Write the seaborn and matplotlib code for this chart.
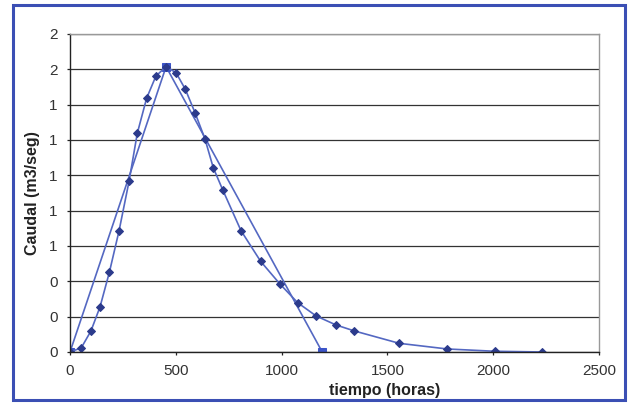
import matplotlib
matplotlib.use("Agg")
import matplotlib.pyplot as plt
from matplotlib.patches import Rectangle
from matplotlib.ticker import MultipleLocator, FormatStrFormatter
import seaborn as sns
import pandas as pd

# Hidrograma unitario (curva observada)
tiempo_curva = [0, 53, 99, 142, 186, 232, 279, 318, 362, 406, 454, 501, 545,
                591, 638, 677, 722, 808, 901, 992, 1076, 1163, 1257, 1344,
                1556, 1783, 2008, 2229]
caudal_curva = [0.0, 0.023, 0.119, 0.256, 0.451, 0.687, 0.966, 1.238, 1.436,
                1.562, 1.615, 1.581, 1.487, 1.354, 1.205, 1.043, 0.917, 0.687,
                0.513, 0.385, 0.279, 0.204, 0.153, 0.119, 0.049, 0.017,
                0.004, 0.0]

# Hidrograma triangular
tiempo_tri = [0, 454, 1192]
caudal_tri = [0.0, 1.615, 0.0]

sns.set_theme(style="white")
plt.rcParams["font.family"] = ["Liberation Sans", "DejaVu Sans"]

fig = plt.figure(figsize=(6.29, 4.11), dpi=100)
ax = fig.add_axes([0.1113, 0.1436, 0.841, 0.7737])

df_curva = pd.DataFrame({"t": tiempo_curva, "q": caudal_curva})
df_tri = pd.DataFrame({"t": tiempo_tri, "q": caudal_tri})

line_col = "#5468c2"
sns.lineplot(data=df_tri, x="t", y="q", ax=ax, color=line_col, lw=1.2,
             marker="s", markersize=5.5, markerfacecolor="#3c54c8",
             markeredgecolor="#3c54c8", sort=False)
sns.lineplot(data=df_curva, x="t", y="q", ax=ax, color=line_col, lw=1.2,
             marker="D", markersize=4.2, markerfacecolor="#2c3b8c",
             markeredgecolor="#2c3b8c", sort=False)

ax.set_xlim(0, 2500)
ax.set_ylim(0, 1.8)
ax.xaxis.set_major_locator(MultipleLocator(500))
ax.yaxis.set_major_locator(MultipleLocator(0.2))
ax.yaxis.set_major_formatter(FormatStrFormatter("%.0f"))

ax.grid(axis="y", color="#333333", lw=0.9)
ax.grid(axis="x", visible=False)
ax.set_axisbelow(True)

for side in ["left", "bottom"]:
    ax.spines[side].set_color("#222222")
    ax.spines[side].set_linewidth(1.0)
for side in ["top", "right"]:
    ax.spines[side].set_color("#999999")
    ax.spines[side].set_linewidth(1.0)

ax.tick_params(axis="both", which="major", direction="out", length=2.5,
               width=0.9, color="#222222", labelsize=11,
               labelcolor="#333333", pad=6.5, left=True, bottom=True)

ax.set_xlabel("tiempo (horas)", fontsize=11.5, fontweight="bold",
              color="#222222")
ax.set_ylabel("Caudal (m3/seg)", fontsize=11.5, fontweight="bold",
              color="#222222")
ax.xaxis.set_label_coords(0.595, -0.1226)
ax.xaxis.label.set_va("center")
ax.yaxis.set_label_coords(-0.070, 0.5)
ax.yaxis.label.set_va("center")

# Marco exterior del gráfico
fig.patches.append(Rectangle((13 / 629, 1 - 400 / 411), 612 / 629, 395 / 411,
                             transform=fig.transFigure, fill=False,
                             edgecolor="#3b4fb4", lw=2.2))

fig.savefig("out.png", dpi=100, facecolor="white")
